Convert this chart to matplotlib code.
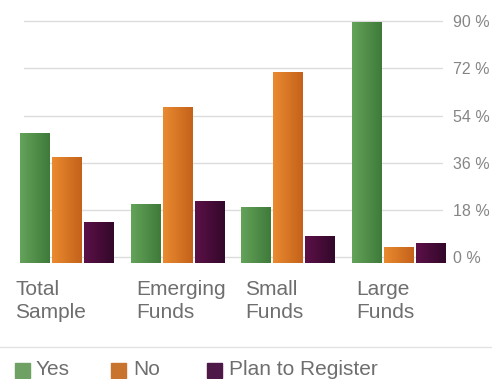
import numpy as np
import matplotlib
matplotlib.use("Agg")
import matplotlib.pyplot as plt
from matplotlib.colors import LinearSegmentedColormap
from matplotlib.patches import Rectangle
from matplotlib.transforms import blended_transform_factory

plt.rcParams["font.family"] = ["Liberation Sans", "DejaVu Sans"]

categories = ["Total\nSample", "Emerging\nFunds", "Small\nFunds", "Large\nFunds"]
series = ["Yes", "No", "Plan to Register"]
yes = [47, 20, 19, 89.5]
no = [38, 57, 70.5, 3.5]
plan = [13, 21, 8, 5]
y_ticks = [0, 18, 36, 54, 72, 90]

# light -> dark shades per series (left to right across each bar)
shades = [("#64a35a", "#3f7a3a"), ("#ea8a30", "#c4621a"), ("#5c1048", "#33082a")]
legend_colors = ["#6fa064", "#c8742e", "#4e1848"]
text_color = "#6e6e6e"

fig = plt.figure(figsize=(4.92, 3.79), dpi=100)
ax = fig.add_axes([24 / 492, 0.301, (443 - 24) / 492, 0.657])

for t in y_ticks:
    ax.axhline(t, color="#dcdcdc", lw=1, zorder=0)

x = np.arange(len(categories))
step, width, floor = 0.29, 0.265, -2.3
for i, vals in enumerate([yes, no, plan]):
    bars = ax.bar(x + (i - 1) * step, np.array(vals) - floor, width, bottom=floor,
                  color=shades[i][1], edgecolor="none", zorder=2, clip_on=False)
    cmap = LinearSegmentedColormap.from_list(series[i], shades[i])
    grad = np.linspace(0, 1, 64).reshape(1, -1)
    for b in bars:
        x0, y0 = b.get_x(), b.get_y()
        im = ax.imshow(grad, cmap=cmap, aspect="auto", zorder=3,
                       extent=[x0, x0 + b.get_width(), y0, y0 + b.get_height()],
                       clip_on=False)
        im.set_clip_path(b)

ax.set_xlim(-0.389, 3.403)
ax.set_ylim(-3, 92)
for s in ax.spines.values():
    s.set_visible(False)
ax.set_xticks([])
ax.yaxis.tick_right()
ax.set_yticks(y_ticks)
ax.set_yticklabels([f"{t} %" for t in y_ticks], color="#858585", fontsize=11.5)
ax.tick_params(axis="y", length=0, pad=7)

# category names under each group
label_shift = [-0.47, -0.37, -0.39, -0.38]
trans = blended_transform_factory(ax.transData, fig.transFigure)
for xi, name, sh in zip(x, categories, label_shift):
    ax.text(xi + sh, 1 - 280 / 379, name, transform=trans, ha="left", va="top",
            fontsize=15, color=text_color, linespacing=1.3)

# separator above the legend
fig.add_artist(plt.Line2D([0, 1], [32 / 379, 32 / 379], color="#e2e2e2", lw=1))

# legend row
sq_x = [15, 111, 207]
tx_x = [36, 133, 229]
for c, name, sx, tx in zip(legend_colors, series, sq_x, tx_x):
    fig.add_artist(Rectangle((sx / 492, 1 / 379), 15 / 492, 15 / 379,
                             transform=fig.transFigure, color=c))
    fig.text(tx / 492, 4 / 379, name, ha="left", va="baseline",
             fontsize=15, color=text_color)

fig.savefig("out.png", dpi=100)
